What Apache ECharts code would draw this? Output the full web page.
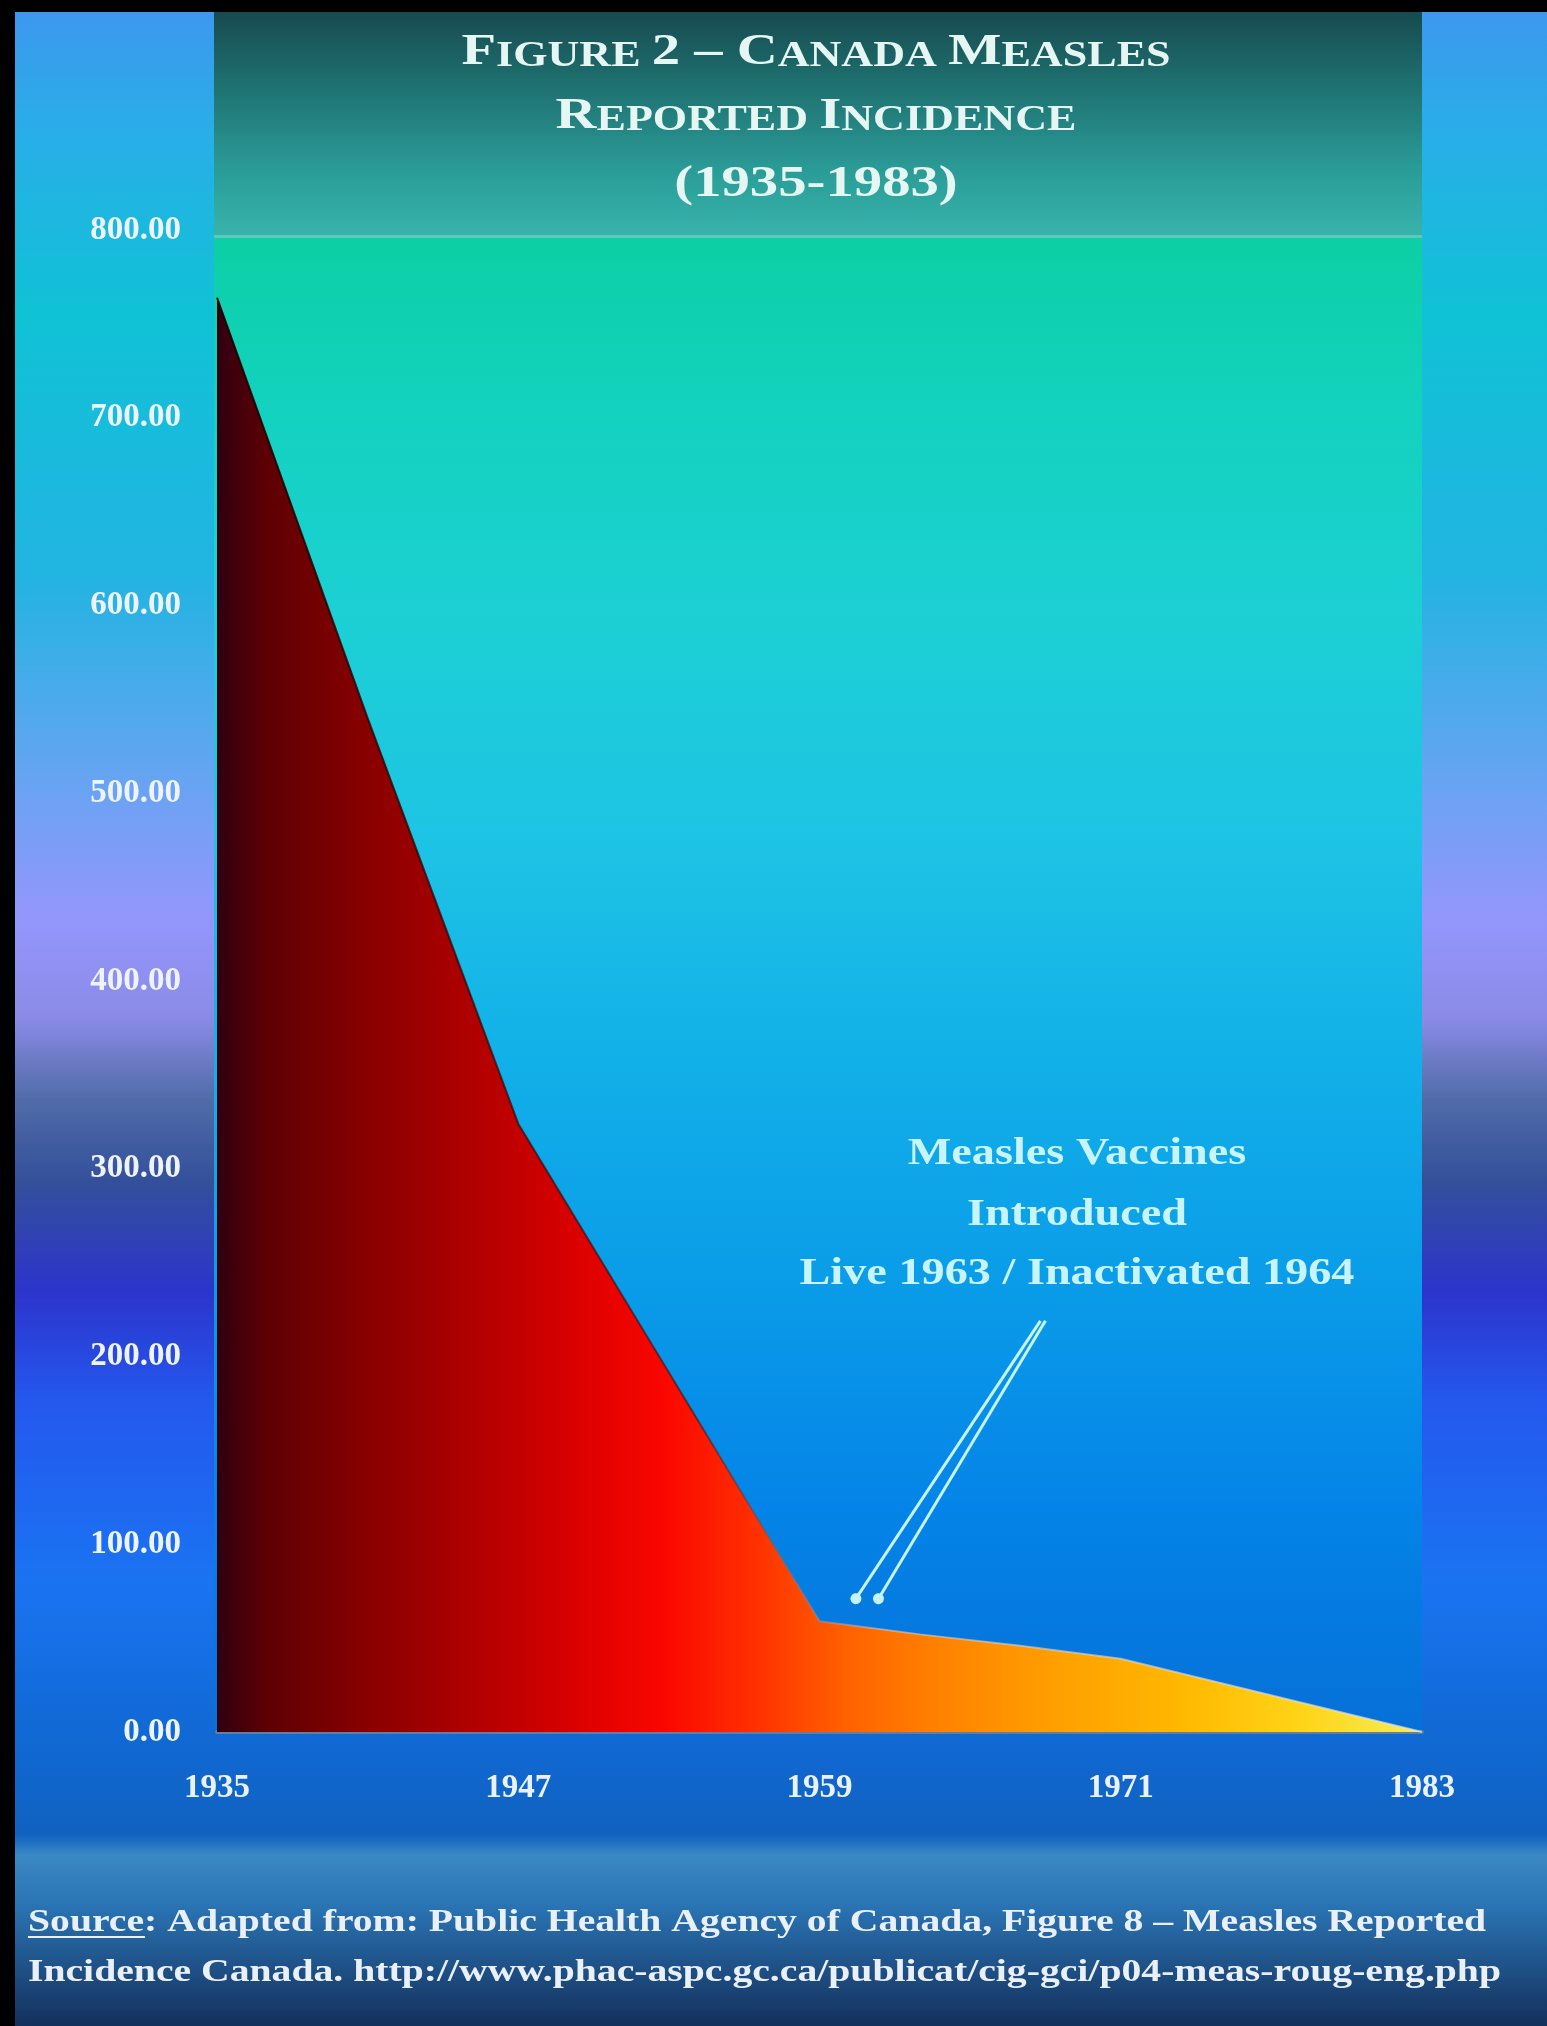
<!DOCTYPE html>
<html>
<head>
<meta charset="utf-8">
<title>Canada Measles Reported Incidence</title>
<script src="https://cdn.jsdelivr.net/npm/echarts@6/dist/echarts.min.js"></script>
<style>
html, body { margin: 0; padding: 0; background: #000; }
#main { width: 1547px; height: 2026px; }
</style>
</head>
<body>
<div id="main"></div>
<script>
// values (incidence per year)
var years = [1935, 1941, 1947, 1959, 1963, 1967, 1971, 1983];
var incidence = [764, 540, 324, 59, 52, 46, 39, 0];

// annotation arrows: [from year, from value, to year, to value]
var arrows = [
    [1967.8, 219, 1960.45, 71],
    [1968.0, 219, 1961.35, 71]
];

var titleLines = [
    '{b|F}{s|IGURE }{b|2 – C}{s|ANADA }{b|M}{s|EASLES}',
    '{b|R}{s|EPORTED }{b|I}{s|NCIDENCE}',
    '{b|(1935-1983)}'
];
var noteLines = ['Measles Vaccines', 'Introduced', 'Live 1963 / Inactivated 1964'];
var sourceLines = [
    'Source: Adapted from: Public Health Agency of Canada, Figure 8 – Measles Reported',
    'Incidence Canada. http://www.phac-aspc.gc.ca/publicat/cig-gci/p04-meas-roug-eng.php'
];

var serif = "'Liberation Serif', 'Times New Roman', serif";
var chart = echarts.init(document.getElementById('main'));

var points = years.map(function (y, i) { return [y, incidence[i]]; });

function vgrad(stops) {
    return new echarts.graphic.LinearGradient(0, 0, 0, 1, stops.map(function (s) {
        return {offset: s[0], color: s[1]};
    }));
}

var graphics = [
    // outer panel
    {type: 'rect', z: -100, silent: true, shape: {x: 15, y: 12, width: 1532, height: 2014},
        style: {fill: vgrad([
            [0, '#3d98ee'], [0.06, '#28aee8'], [0.15, '#10c2d6'], [0.28, '#22b4e2'],
            [0.38, '#66a4f2'], [0.45, '#9496fc'], [0.5, '#8a8ae6'], [0.54, '#506ca8'],
            [0.58, '#34509a'], [0.635, '#2c34cc'], [0.69, '#2458ee'], [0.78, '#1a74f2'],
            [0.86, '#1068d2'], [0.905, '#1062c0'], [0.915, '#3a88c4'], [0.94, '#2a74b4'],
            [1, '#14305c']])}},
    // title box
    {type: 'rect', z: -90, silent: true, shape: {x: 214, y: 12, width: 1208, height: 226},
        style: {fill: vgrad([[0, '#174a50'], [0.3, '#1e6e6e'], [0.7, '#2a9c98'], [1, '#38b4ac']])}},
    {type: 'rect', z: -89, silent: true, shape: {x: 214, y: 235, width: 1208, height: 3},
        style: {fill: '#5cc8ba'}},
    // plot panel
    {type: 'rect', z: -90, silent: true, shape: {x: 214, y: 238, width: 1208, height: 1494},
        style: {fill: vgrad([
            [0, '#0ccfa4'], [0.1, '#12d2bc'], [0.25, '#1cd0d4'], [0.4, '#1ec4e4'],
            [0.55, '#12b0e8'], [0.7, '#0a9ce8'], [0.85, '#0484e8'], [1, '#0670d8']])}}
];

var titleY = [52, 116, 184];
titleLines.forEach(function (t, i) {
    graphics.push({
        type: 'text', x: 816, y: titleY[i], scaleX: 1.26, z: 10, silent: true,
        style: {
            text: t, align: 'center', verticalAlign: 'middle',
            textAlign: 'center', textVerticalAlign: 'middle',
            fill: '#e6f6f2',
            rich: {
                b: {fontFamily: serif, fontWeight: 'bold', fontSize: 45, fill: '#e6f6f2', color: '#e6f6f2', verticalAlign: 'bottom'},
                s: {fontFamily: serif, fontWeight: 'bold', fontSize: 35, fill: '#e6f6f2', color: '#e6f6f2', verticalAlign: 'bottom'}
            }
        }
    });
});

var noteY = [1154, 1215, 1274];
noteLines.forEach(function (t, i) {
    graphics.push({
        type: 'text', x: 1077, y: noteY[i], scaleX: 1.25, z: 10, silent: true,
        style: {
            text: t, align: 'center', verticalAlign: 'middle',
            textAlign: 'center', textVerticalAlign: 'middle',
            fill: '#c8f4ff', font: 'bold 37px ' + serif
        }
    });
});

var sourceY = [1923, 1973];
sourceLines.forEach(function (t, i) {
    graphics.push({
        type: 'text', x: 28, y: sourceY[i], scaleX: 1.28, z: 10, silent: true,
        style: {
            text: t, align: 'left', verticalAlign: 'middle',
            textAlign: 'left', textVerticalAlign: 'middle',
            fill: '#eaf0fa', font: 'bold 31px ' + serif
        }
    });
});
// underline under "Source"
graphics.push({type: 'rect', z: 10, silent: true, shape: {x: 28, y: 1936, width: 117, height: 2},
    style: {fill: '#eaf0fa'}});

chart.setOption({
    animation: false,
    backgroundColor: '#000',
    graphic: graphics,
    grid: {left: 217, right: 125, top: 230, bottom: 294},
    xAxis: {
        type: 'value',
        min: 1935,
        max: 1983,
        interval: 12,
        splitLine: {show: false},
        axisTick: {show: false},
        axisLine: {show: true, lineStyle: {color: '#5f7ea8', width: 4}},
        axisLabel: {
            color: '#eaf2ff', fontFamily: serif, fontWeight: 'bold', fontSize: 33, margin: 40,
            formatter: function (v) { return String(v); }
        }
    },
    yAxis: {
        type: 'value',
        min: 0,
        max: 800,
        interval: 100,
        splitLine: {show: false},
        axisTick: {show: false},
        axisLine: {show: false},
        axisLabel: {
            color: '#eef4ff', fontFamily: serif, fontWeight: 'bold', fontSize: 33, margin: 36,
            formatter: function (v) { return v.toFixed(2); }
        }
    },
    series: [
        {
            name: 'Reported incidence',
            type: 'line',
            data: points,
            symbol: 'none',
            z: 3,
            lineStyle: {
                width: 2,
                color: new echarts.graphic.LinearGradient(0, 0, 1, 0, [
                    {offset: 0, color: 'rgba(20,0,0,0.9)'},
                    {offset: 0.4, color: 'rgba(60,20,20,0.6)'},
                    {offset: 0.55, color: 'rgba(200,200,210,0.6)'},
                    {offset: 1, color: 'rgba(230,230,230,0.7)'}
                ])
            },
            areaStyle: {
                opacity: 1,
                color: new echarts.graphic.LinearGradient(0, 0, 1, 0, [
                    {offset: 0, color: '#300010'},
                    {offset: 0.04, color: '#5c0004'},
                    {offset: 0.12, color: '#860000'},
                    {offset: 0.22, color: '#b40000'},
                    {offset: 0.3, color: '#dc0000'},
                    {offset: 0.37, color: '#fa0600'},
                    {offset: 0.44, color: '#ff2c00'},
                    {offset: 0.52, color: '#ff6000'},
                    {offset: 0.6, color: '#ff8200'},
                    {offset: 0.7, color: '#ffa000'},
                    {offset: 0.8, color: '#ffb800'},
                    {offset: 0.9, color: '#ffd418'},
                    {offset: 1, color: '#f4ee56'}
                ])
            },
            markLine: {
                silent: true,
                symbol: ['none', 'circle'],
                symbolSize: 11,
                label: {show: false},
                lineStyle: {color: '#c4f4ff', width: 3, type: 'solid'},
                data: arrows.map(function (a) {
                    return [{coord: [a[0], a[1]]}, {coord: [a[2], a[3]]}];
                })
            }
        }
    ]
});
</script>
</body>
</html>
